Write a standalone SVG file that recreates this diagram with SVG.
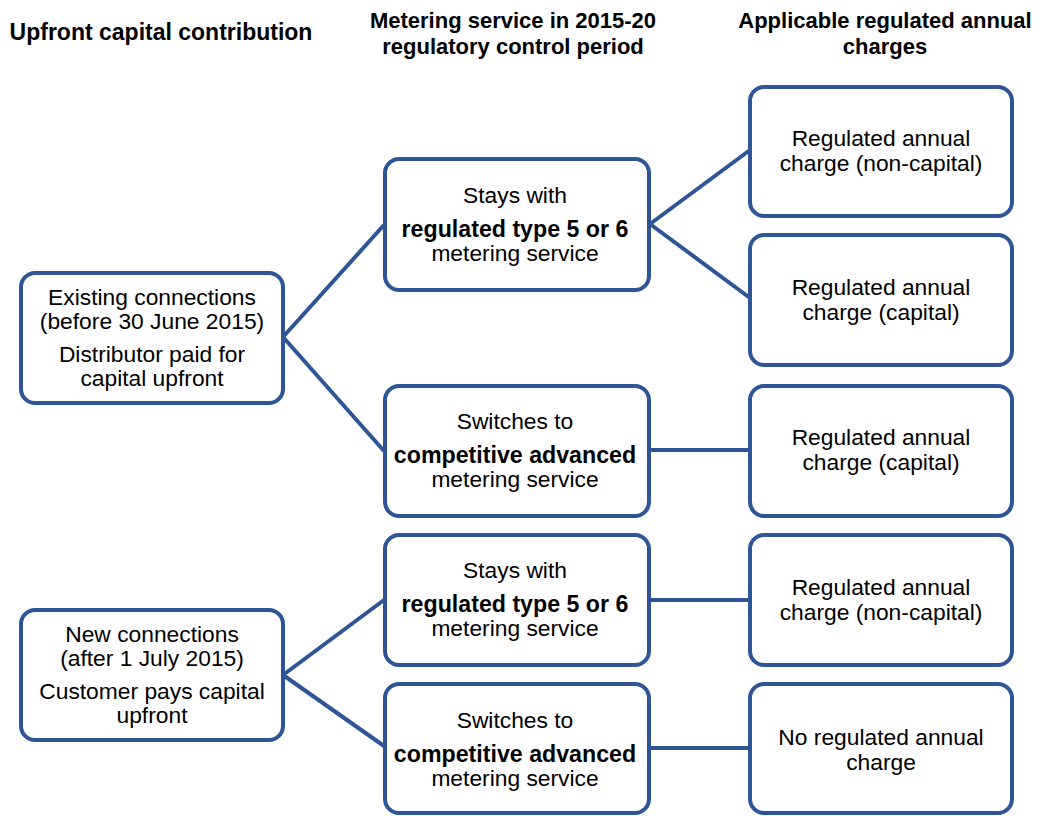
<svg xmlns="http://www.w3.org/2000/svg" width="1056" height="816" viewBox="0 0 1056 816">
<style>
.box{fill:#fff;stroke:#2F5597;stroke-width:4}
.con line{stroke:#2F5597;stroke-width:4}
text{font-family:"Liberation Sans",Arial,sans-serif;font-size:22.8px;fill:#000;text-anchor:middle}
.b{font-weight:bold;font-size:23.2px}
.h{font-weight:bold;font-size:22px}
</style>
<rect width="1056" height="816" fill="#fff"/>
<g id="headers">
<text class="h" x="161" y="40" style="font-size:23px">Upfront  capital contribution</text>
<text class="h" x="513" y="28">Metering service  in 2015-20</text>
<text class="h" x="513" y="54">regulatory control  period</text>
<text class="h" x="885" y="28">Applicable regulated annual</text>
<text class="h" x="885" y="54">charges</text>
</g>
<g id="connectors" class="con">
<line x1="283" y1="337" x2="384" y2="225"/>
<line x1="283" y1="337" x2="384" y2="451"/>
<line x1="650" y1="224" x2="750" y2="150"/>
<line x1="650" y1="224" x2="750" y2="298"/>
<line x1="650" y1="450" x2="750" y2="450"/>
<line x1="283" y1="675" x2="384" y2="600"/>
<line x1="283" y1="675" x2="384" y2="746"/>
<line x1="650" y1="600" x2="750" y2="600"/>
<line x1="650" y1="748" x2="750" y2="748"/>
</g>
<g id="existing">
<rect class="box" x="21" y="273" width="262" height="130" rx="14"/>
<text x="152" y="305">Existing connections</text>
<text x="152" y="329">(before  30 June  2015)</text>
<text x="152" y="362">Distributor paid for</text>
<text x="152" y="386">capital upfront</text>
</g>
<g id="new">
<rect class="box" x="21" y="610" width="262" height="130" rx="14"/>
<text x="152" y="642">New connections</text>
<text x="152" y="666">(after 1 July 2015)</text>
<text x="152" y="699">Customer pays capital</text>
<text x="152" y="723">upfront</text>
</g>
<g id="stays1">
<rect class="box" x="385" y="159" width="264" height="131" rx="14"/>
<text x="515" y="203">Stays with</text>
<text class="b" x="515" y="237">regulated type 5 or 6</text>
<text x="515" y="261">metering  service</text>
</g>
<g id="switch1">
<rect class="box" x="385" y="386" width="264" height="130" rx="14"/>
<text x="515" y="429">Switches to</text>
<text class="b" x="515" y="463">competitive advanced</text>
<text x="515" y="487">metering  service</text>
</g>
<g id="stays2">
<rect class="box" x="385" y="535" width="264" height="130" rx="14"/>
<text x="515" y="578">Stays with</text>
<text class="b" x="515" y="612">regulated type 5 or 6</text>
<text x="515" y="636">metering  service</text>
</g>
<g id="switch2">
<rect class="box" x="385" y="684" width="264" height="129" rx="14"/>
<text x="515" y="728">Switches to</text>
<text class="b" x="515" y="762">competitive advanced</text>
<text x="515" y="786">metering  service</text>
</g>
<g id="charge1">
<rect class="box" x="750" y="87" width="262" height="129" rx="14"/>
<text x="881" y="146">Regulated  annual</text>
<text x="881" y="171">charge  (non-capital)</text>
</g>
<g id="charge2">
<rect class="box" x="750" y="235" width="262" height="130" rx="14"/>
<text x="881" y="295">Regulated  annual</text>
<text x="881" y="320">charge  (capital)</text>
</g>
<g id="charge3">
<rect class="box" x="750" y="386" width="262" height="130" rx="14"/>
<text x="881" y="445">Regulated  annual</text>
<text x="881" y="470">charge  (capital)</text>
</g>
<g id="charge4">
<rect class="box" x="750" y="535" width="262" height="130" rx="14"/>
<text x="881" y="595">Regulated  annual</text>
<text x="881" y="620">charge  (non-capital)</text>
</g>
<g id="charge5">
<rect class="box" x="750" y="684" width="262" height="129" rx="14"/>
<text x="881" y="745">No regulated annual</text>
<text x="881" y="770">charge</text>
</g>
</svg>
